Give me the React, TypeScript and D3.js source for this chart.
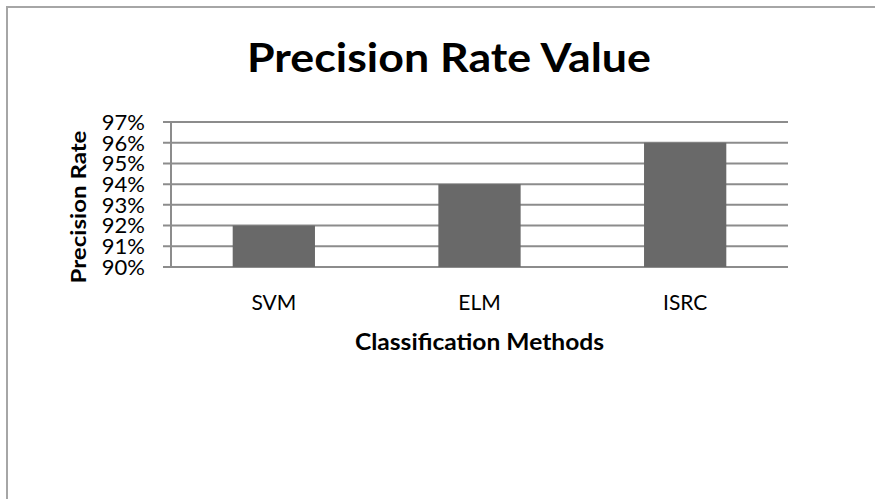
import { useRef, useEffect } from "react";
import * as d3 from "d3";

const categories = ["SVM", "ELM", "ISRC"];
const values = [92, 94, 96];
const yTicks = [90, 91, 92, 93, 94, 95, 96, 97];

const FONT = "Lato, 'Open Sans', sans-serif";

export default function App() {
  const ref = useRef<SVGSVGElement | null>(null);

  const width = 875,
    height = 499;
  const margin = { top: 122, left: 171, right: 87, bottom: 232 };
  const plotW = width - margin.left - margin.right;
  const plotH = height - margin.top - margin.bottom;

  useEffect(() => {
    const svg = d3.select(ref.current);
    svg.selectAll("*").remove();

    // outer chart border (cropped at right/bottom)
    svg
      .append("rect")
      .attr("x", 7)
      .attr("y", 7)
      .attr("width", 1000)
      .attr("height", 1000)
      .attr("fill", "white")
      .attr("stroke", "#a6a6a6")
      .attr("stroke-width", 2);

    svg
      .append("text")
      .attr("x", 449)
      .attr("y", 72)
      .attr("text-anchor", "middle")
      .attr("font-family", FONT)
      .attr("font-weight", "bold")
      .attr("font-size", 40)
      .attr("textLength", 404)
      .attr("lengthAdjust", "spacingAndGlyphs")
      .text("Precision Rate Value");

    const g = svg
      .append("g")
      .attr("transform", `translate(${margin.left}, ${margin.top})`);

    const x = d3.scaleBand().domain(categories).range([0, plotW]).paddingInner(0.6).paddingOuter(0.3);
    const y = d3.scaleLinear().domain([90, 97]).range([plotH, 0]);

    // gridlines + tick marks
    g.selectAll(".grid")
      .data(yTicks)
      .enter()
      .append("line")
      .attr("x1", -8)
      .attr("x2", plotW)
      .attr("y1", (d) => y(d))
      .attr("y2", (d) => y(d))
      .attr("stroke", "#8c8c8c")
      .attr("stroke-width", 2);

    // bars
    g.selectAll(".bar")
      .data(values)
      .enter()
      .append("rect")
      .attr("x", (_d, i) => x(categories[i])!)
      .attr("width", x.bandwidth())
      .attr("y", (d) => y(d))
      .attr("height", (d) => plotH - y(d))
      .attr("fill", "#696969");

    // y axis line
    g.append("line")
      .attr("x1", 0)
      .attr("x2", 0)
      .attr("y1", 0)
      .attr("y2", plotH + 1)
      .attr("stroke", "#8c8c8c")
      .attr("stroke-width", 2);

    // y tick labels
    g.selectAll(".ylab")
      .data(yTicks)
      .enter()
      .append("text")
      .attr("x", -26)
      .attr("y", (d) => y(d))
      .attr("dy", "0.36em")
      .attr("text-anchor", "end")
      .attr("font-family", FONT)
      .attr("font-size", 22)
      .text((d) => d + "%");

    // x labels
    g.selectAll(".xlab")
      .data(categories)
      .enter()
      .append("text")
      .attr("x", (d) => x(d)! + x.bandwidth() / 2)
      .attr("y", plotH + 43)
      .attr("text-anchor", "middle")
      .attr("font-family", FONT)
      .attr("font-size", 21)
      .text((d) => d);

    g.append("text")
      .attr("x", plotW / 2)
      .attr("y", plotH + 83)
      .attr("text-anchor", "middle")
      .attr("font-family", FONT)
      .attr("font-weight", "bold")
      .attr("font-size", 22)
      .attr("textLength", 249)
      .attr("lengthAdjust", "spacingAndGlyphs")
      .text("Classification Methods");

    svg
      .append("text")
      .attr("transform", "translate(86, 207) rotate(-90)")
      .attr("text-anchor", "middle")
      .attr("font-family", FONT)
      .attr("font-weight", "bold")
      .attr("font-size", 21)
      .attr("textLength", 153)
      .attr("lengthAdjust", "spacingAndGlyphs")
      .text("Precision Rate");
  }, []);

  return (
    <svg
      ref={ref}
      width={width}
      height={height}
      style={{ position: "absolute", left: 0, top: 0, background: "white" }}
    />
  );
}
